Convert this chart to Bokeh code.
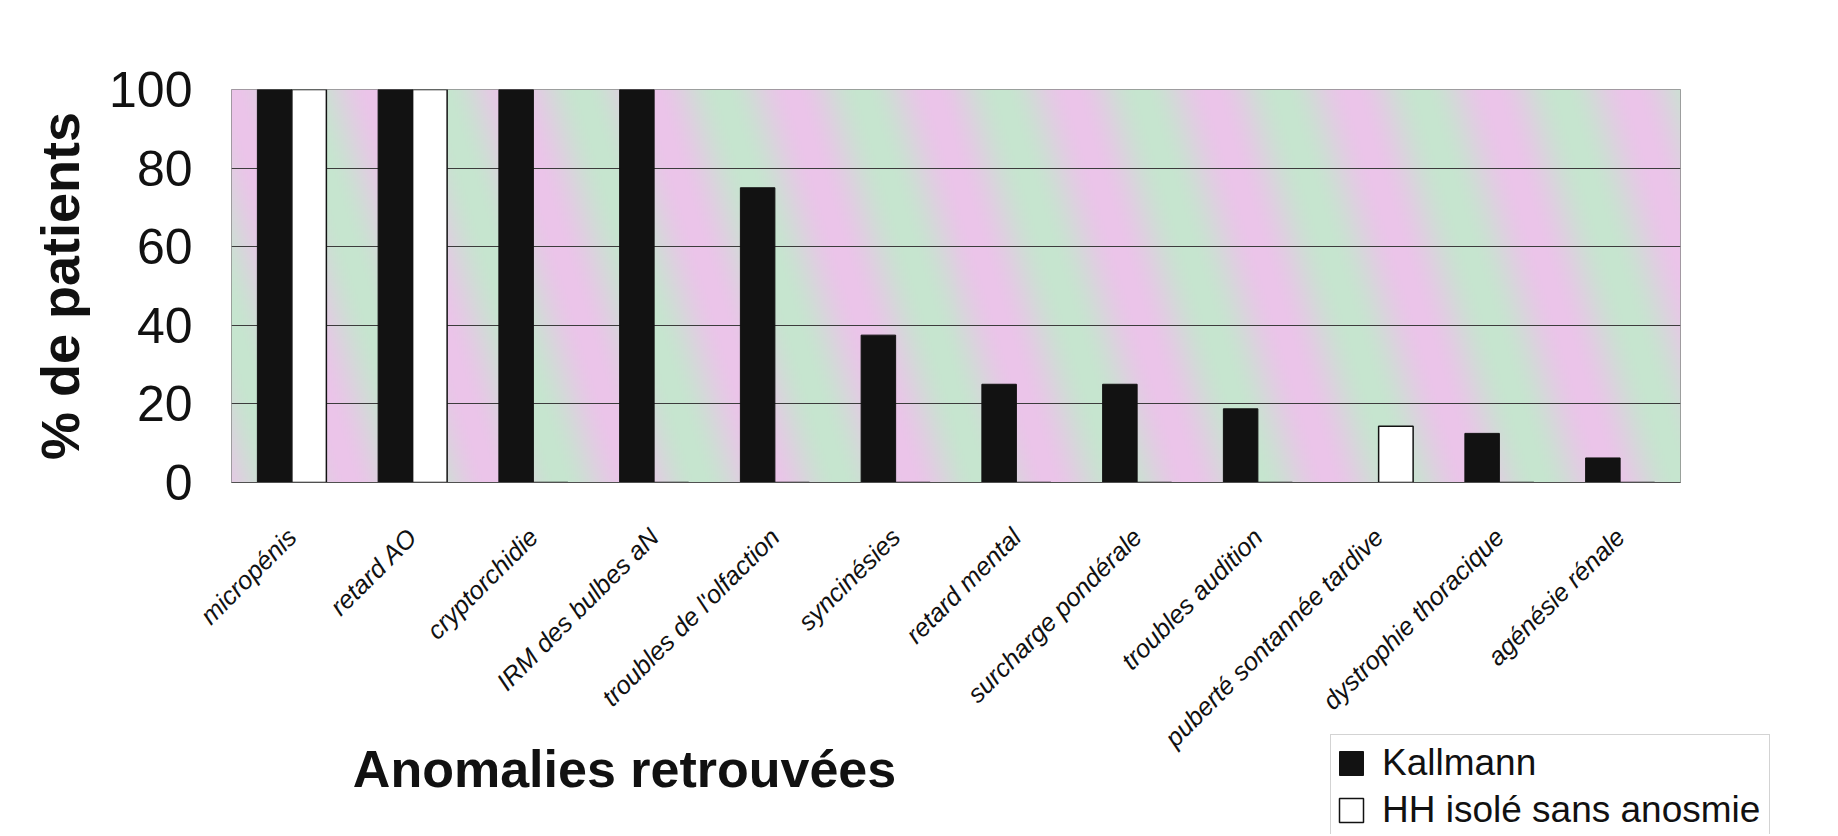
import numpy as np
from math import pi
from bokeh.plotting import figure
from bokeh.layouts import column
from bokeh.models import (FactorRange, Range1d, Legend, LegendItem, Label,
                          ColumnDataSource, FixedTicker)
from bokeh.transform import dodge
from bokeh.embed import file_html
from bokeh.resources import INLINE

# ---------------- data ----------------
categories = ["micropénis", "retard AO", "cryptorchidie", "IRM des bulbes aN",
              "troubles de l'olfaction", "syncinésies", "retard mental",
              "surcharge pondérale", "troubles audition",
              "puberté sontannée tardive", "dystrophie thoracique",
              "agénésie rénale"]
kallmann = [100, 100, 100, 100, 75, 37.5, 25, 25, 18.75, 0, 12.5, 6.25]
hh_isole = [100, 100, 0, 0, 0, 0, 0, 0, 0, 14.3, 0, 0]
y_ticks = [0, 20, 40, 60, 80, 100]
series_names = ["Kallmann", "HH isolé sans anosmie"]
x_title = "Anomalies retrouvées"
y_title = "% de patients"

FONT = "Liberation Sans"
BLACK = "#121212"

src = ColumnDataSource(dict(cat=categories, k=kallmann, h=hh_isole))

W = 1836
H_TOP = 775          # main chart (frame 89..482, room for slanted labels)
H_BOT = 100          # strip with x title + legend, overlapping the bottom
OVERLAP = 41         # -> strip spans 734..834

p = figure(width=W, height=H_TOP,
           x_range=FactorRange(factors=categories, range_padding=0),
           y_range=Range1d(0, 100),
           output_backend="svg", toolbar_location=None,
           min_border_left=231, min_border_right=W - 1680,
           min_border_top=89, min_border_bottom=H_TOP - 482)

# ---------------- striped plot-area background ----------------
nx, ny = 725, 197
xs = np.arange(nx) * 2.0
ys_down = (ny - 1 - np.arange(ny)) * 2.0
X, Yd = np.meshgrid(xs, ys_down)
t = 0.5 + 0.5 * np.cos(2 * np.pi * (X - 0.3 * Yd) / 140.0)
pink = np.array([236, 196, 234])
green = np.array([198, 230, 207])
img = np.empty((ny, nx), dtype=np.uint32)
view = img.view(dtype=np.uint8).reshape((ny, nx, 4))
for c in range(3):
    view[:, :, c] = (pink[c] * t + green[c] * (1 - t)).astype(np.uint8)
view[:, :, 3] = 255
bg = p.image_rgba(image=[img], x=0, y=0, dw=len(categories), dh=max(y_ticks))
bg.level = "image"

# ---------------- bars ----------------
bw = 1 / 3.5
r1 = p.vbar(x=dodge('cat', -bw / 2, range=p.x_range), top='k', width=bw,
            source=src, fill_color=BLACK, line_color=BLACK)
r2 = p.vbar(x=dodge('cat', bw / 2, range=p.x_range), top='h', width=bw,
            source=src, fill_color="white", line_color=BLACK, line_width=1.5)

# ---------------- axes / grid ----------------
p.outline_line_color = "#8a8a8a"
p.xgrid.grid_line_color = None
p.ygrid.ticker = FixedTicker(ticks=y_ticks)
p.ygrid.grid_line_color = "#3c3c3c"
p.ygrid.grid_line_width = 1

p.yaxis.ticker = FixedTicker(ticks=y_ticks)
p.yaxis.axis_line_color = None
p.yaxis.major_tick_line_color = None
p.yaxis.minor_tick_line_color = None
p.yaxis.major_label_text_font = FONT
p.yaxis.major_label_text_font_size = "50px"
p.yaxis.major_label_text_color = "#111111"
p.yaxis.major_label_standoff = 33
p.yaxis.axis_label = y_title
p.yaxis.axis_label_text_font = FONT
p.yaxis.axis_label_text_font_size = "54px"
p.yaxis.axis_label_text_font_style = "bold"
p.yaxis.axis_label_text_color = "#111111"
p.yaxis.axis_label_standoff = 16

p.xaxis.axis_line_color = "#505050"
p.xaxis.major_tick_line_color = None
p.xaxis.minor_tick_line_color = None
p.xaxis.major_label_orientation = pi / 4
p.xaxis.major_label_text_font = FONT
p.xaxis.major_label_text_font_size = "25.5px"
p.xaxis.major_label_text_font_style = "italic"
p.xaxis.major_label_text_color = "#111111"
p.xaxis.major_label_standoff = 44

# ---------------- bottom strip: x title + legend ----------------
q = figure(width=W, height=H_BOT, x_range=Range1d(0, W), y_range=Range1d(0, H_BOT),
           output_backend="svg", toolbar_location=None,
           x_axis_location=None, y_axis_location=None,
           min_border=0, min_border_left=0, min_border_right=0,
           min_border_top=0, min_border_bottom=0)
if "frame_align" in type(q).properties():
    q.frame_align = False
try:
    q.margin = (-OVERLAP, 0, 0, 0)
except Exception:
    q.styles = {"margin-top": "-%dpx" % OVERLAP}
q.outline_line_color = None
q.background_fill_color = None
q.border_fill_color = None
q.xgrid.grid_line_color = None
q.ygrid.grid_line_color = None

q.add_layout(Label(x=624, y=66, text=x_title, text_font=FONT,
                   text_font_size="52px", text_font_style="bold",
                   text_color="#111111", text_align="center",
                   text_baseline="middle"))

# legend proxies (same styling as the bars above, never shown themselves)
k1 = q.vbar(x=[0], top=[0], width=0, fill_color=BLACK, line_color=BLACK,
            visible=False)
k2 = q.vbar(x=[0], top=[0], width=0, fill_color="white", line_color=BLACK,
            line_width=1.5, visible=False)
legend = Legend(items=[LegendItem(label=series_names[0], renderers=[k1]),
                       LegendItem(label=series_names[1], renderers=[k2])],
                location=(1330, -5), orientation="vertical",
                border_line_color="#a8a8a8", border_line_width=1,
                background_fill_color="white", background_fill_alpha=1,
                inactive_fill_alpha=0,
                label_text_font=FONT, label_text_font_size="37px",
                label_text_color="#111111",
                glyph_width=30, glyph_height=30, label_standoff=16,
                label_height=46, label_width=382,
                padding=5, spacing=1, margin=0)
q.add_layout(legend)

open("out.html", "w").write(file_html(column(p, q, spacing=0), INLINE))
